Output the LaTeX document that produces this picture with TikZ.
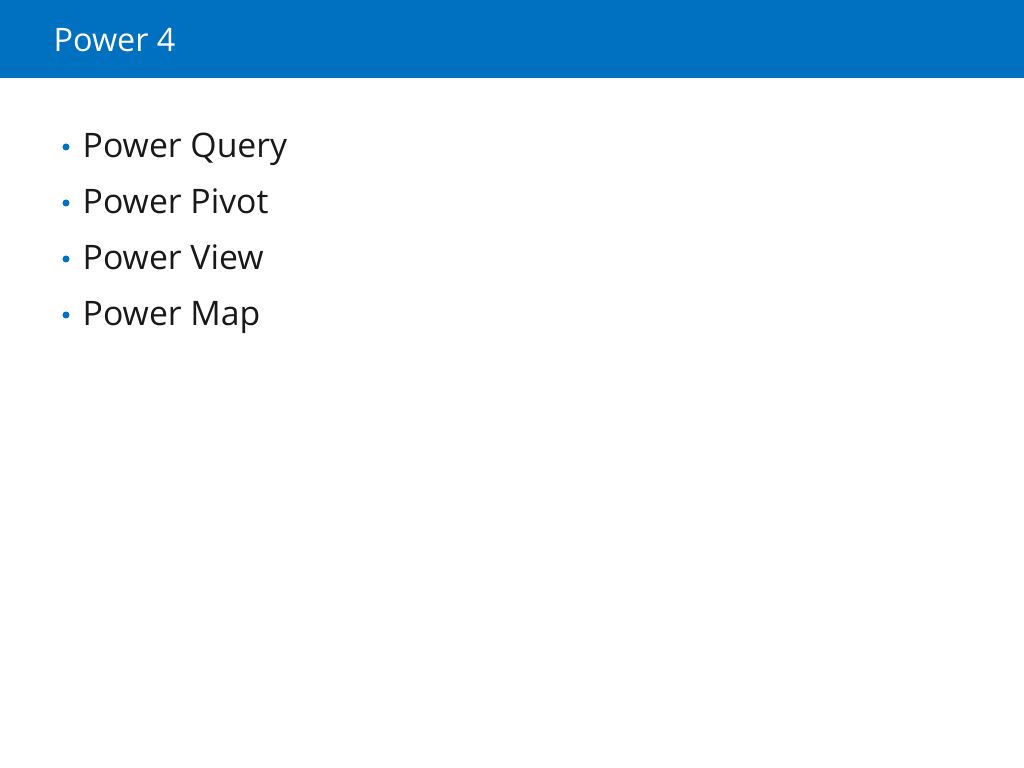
\documentclass[tikz,border=0pt]{standalone}
\usepackage{fontspec}
\setmainfont{Open Sans}
\definecolor{hdr}{HTML}{0070C0}
\begin{document}
\begin{tikzpicture}[x=0.01cm,y=-0.01cm,
  item/.style={anchor=base west,inner sep=0pt,font=\fontsize{9.6pt}{11pt}\selectfont,text=black!90},
  dot/.style={circle,fill=hdr,inner sep=0pt,minimum size=0.07cm}]
\useasboundingbox (0,0) rectangle (1024,768);
\fill[hdr] (0,0) rectangle (1024,78);
\node[anchor=base west,inner sep=0pt,text=white,font=\fontsize{9.2pt}{11pt}\selectfont] (title) at (53,52) {Power 4};
\foreach \t/\y/\n in {Power Query/158/a,Power Pivot/214/b,Power View/270/c,Power Map/326/d}{
  \node[item] (\n) at (82,\y) {\t};
  \node[dot] (d\n) at (66,\y-11) {};
}
\end{tikzpicture}
\end{document}
